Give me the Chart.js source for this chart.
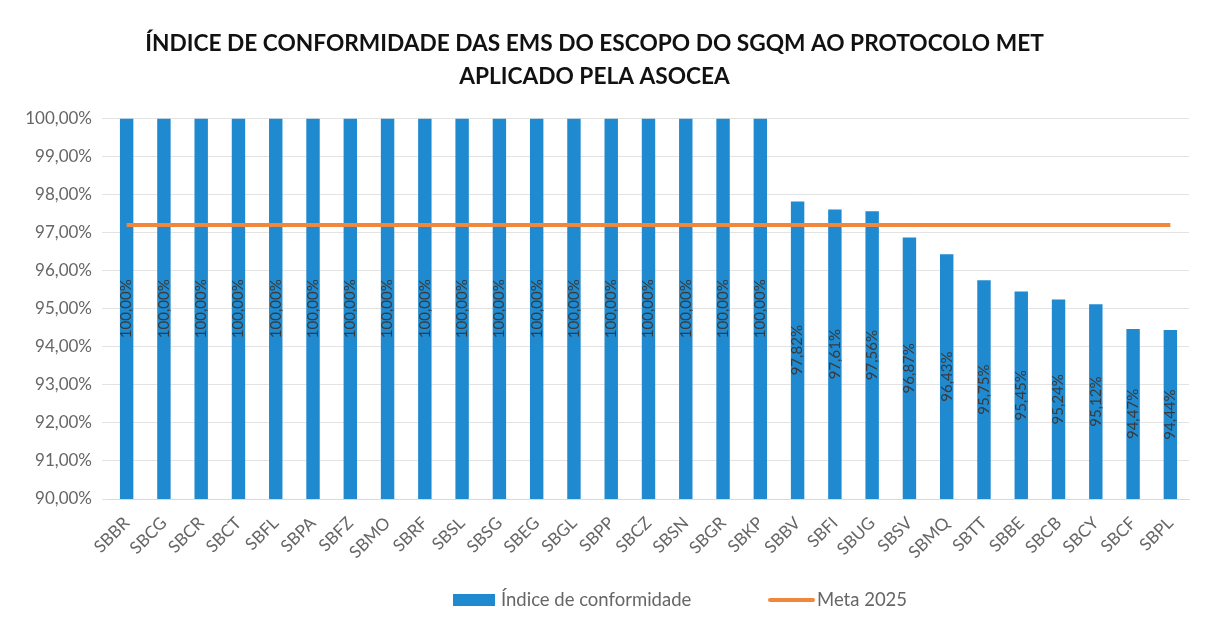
<!DOCTYPE html>
<html>
<head>
<meta charset="utf-8">
<script src="https://cdn.jsdelivr.net/npm/chart.js@4/dist/chart.umd.min.js"></script>
<style>
html,body{margin:0;padding:0;background:#fff;}
#wrap{width:1211px;height:628px;position:relative;}
</style>
</head>
<body>
<div id="wrap"><canvas id="c" width="1211" height="628"></canvas></div>
<script>
const categories = ["SBBR","SBCG","SBCR","SBCT","SBFL","SBPA","SBFZ","SBMO","SBRF","SBSL","SBSG","SBEG","SBGL","SBPP","SBCZ","SBSN","SBGR","SBKP","SBBV","SBFI","SBUG","SBSV","SBMQ","SBTT","SBBE","SBCB","SBCY","SBCF","SBPL"];
const conformidade = [100,100,100,100,100,100,100,100,100,100,100,100,100,100,100,100,100,100,97.82,97.61,97.56,96.87,96.43,95.75,95.45,95.24,95.12,94.47,94.44];
const meta2025 = categories.map(() => 97.2);
const titleLines = ["ÍNDICE DE CONFORMIDADE DAS EMS DO ESCOPO DO SGQM AO PROTOCOLO MET","APLICADO PELA ASOCEA"];

const fmt = v => v.toFixed(2).replace('.', ',') + '%';
const FONT = "Lato, 'Open Sans', sans-serif";
const BLUE = '#1f8ad0';
const ORANGE = '#f0873a';

const barLabels = {
  id: 'barLabels',
  afterDraw(chart) {
    const ctx = chart.ctx;
    const xs = chart.scales.x, ys = chart.scales.y;
    const base = ys.getPixelForValue(ys.min);
    ctx.save();
    ctx.font = "15px " + FONT;
    ctx.fillStyle = '#3a3a3a';
    ctx.textAlign = 'center';
    ctx.textBaseline = 'middle';
    conformidade.forEach((v, i) => {
      const x = xs.getPixelForValue(i);
      const y = ys.getPixelForValue(v);
      const cy = (y + base) / 2;
      ctx.save();
      ctx.translate(x, cy);
      ctx.rotate(-Math.PI / 2);
      ctx.fillText(fmt(v), 0, 0);
      ctx.restore();
    });
    ctx.restore();

    // legend
    const items = chart.data.datasets;
    const ly = 600;
    ctx.save();
    ctx.font = "18.5px " + FONT;
    ctx.textBaseline = 'middle';
    ctx.textAlign = 'left';
    ctx.fillStyle = items[0].backgroundColor;
    ctx.fillRect(453, ly - 6, 42, 12);
    ctx.fillStyle = '#666666';
    ctx.fillText(items[0].label, 501, ly);
    ctx.strokeStyle = items[1].borderColor;
    ctx.lineWidth = 4;
    ctx.lineCap = 'round';
    ctx.beginPath();
    ctx.moveTo(770, ly);
    ctx.lineTo(813, ly);
    ctx.stroke();
    ctx.fillText(items[1].label, 817, ly);
    ctx.restore();
  }
};

new Chart(document.getElementById('c'), {
  type: 'bar',
  data: {
    labels: categories,
    datasets: [
      {
        type: 'bar',
        label: 'Índice de conformidade',
        data: conformidade,
        backgroundColor: BLUE,
        borderWidth: 0,
        barPercentage: 0.36,
        categoryPercentage: 1,
        order: 1
      },
      {
        type: 'line',
        label: 'Meta 2025',
        data: meta2025,
        borderColor: ORANGE,
        backgroundColor: ORANGE,
        borderWidth: 4,
        pointRadius: 0,
        fill: false,
        order: 0
      }
    ]
  },
  options: {
    responsive: false,
    animation: false,
    devicePixelRatio: 1,
    layout: { padding: { left: 0, right: 22, top: 0, bottom: 69 } },
    plugins: {
      title: {
        display: true,
        text: titleLines,
        color: '#111',
        font: { family: FONT, size: 22.7, weight: 'bold', lineHeight: 1.42 },
        padding: { top: 28, bottom: 26 }
      },
      legend: { display: false },
      tooltip: { enabled: false }
    },
    scales: {
      x: {
        offset: true,
        afterFit(scale) { scale.height = 60; },
        grid: { display: false },
        border: { color: '#d9d9d9' },
        ticks: {
          color: '#666666',
          font: { family: FONT, size: 17 },
          minRotation: 45,
          maxRotation: 45,
          autoSkip: false,
          padding: 6
        }
      },
      y: {
        min: 90,
        max: 100,
        afterFit(scale) { scale.width = 108; },
        grid: { color: '#e3e3e3', drawTicks: true, tickLength: 6 },
        border: { display: false },
        ticks: {
          stepSize: 1,
          color: '#666666',
          font: { family: FONT, size: 17 },
          padding: 10,
          callback: v => fmt(v)
        }
      }
    }
  },
  plugins: [barLabels]
});
</script>
</body>
</html>
